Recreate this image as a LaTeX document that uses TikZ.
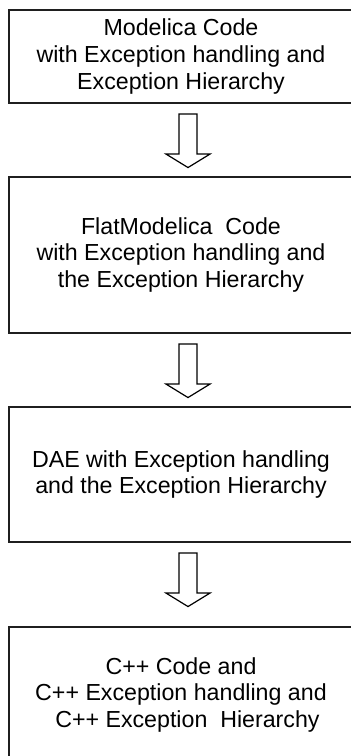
\documentclass[tikz,border=0pt]{standalone}
\usepackage{fontspec}
\setmainfont{Liberation Sans}
\usepackage{xcolor}
\usetikzlibrary{calc}

\tikzset{
  stagebox/.style={draw=black!88, line width=1.6pt, align=center,
    minimum width=258pt, inner sep=0pt,
    font=\fontsize{17.4}{20}\selectfont},
  hollowarrow/.style={draw=black, line width=0.9pt, fill=white}
}

% 空心向下箭头:从框底部往下画
\newcommand{\stagearrow}[1]{%
  \draw[hollowarrow] ($(188,0 |- #1.south)+(-9,-10)$) -- ++(18,0) -- ++(0,-40)
    -- ++(13,0) -- ++(-22,-13.5) -- ++(-22,13.5) -- ++(13,0) -- cycle;}

\begin{document}
\begin{tikzpicture}[x=0.75pt, y=0.75pt]
    \useasboundingbox (0,0) rectangle (350,756);

    % 四个阶段的框,右边缘超出画面
    \node[stagebox, minimum height=69.75pt] (modelica) at (181, 699.5)
        {Modelica Code\\with Exception handling and\\Exception Hierarchy};
    \node[stagebox, minimum height=117pt] (flat) at (181, 501)
        {FlatModelica\ \ Code\\with Exception handling and\\the Exception Hierarchy};
    \node[stagebox, minimum height=101.25pt] (dae) at (181, 281.5)
        {DAE with Exception handling\\and the Exception Hierarchy};
    \node[stagebox, minimum height=102pt] (cpp) at (181, 61)
        {C++ Code and\\C++ Exception handling and\\\ \ C++ Exception\ \ Hierarchy};

    % 阶段之间的箭头
    \stagearrow{modelica}
    \stagearrow{flat}
    \stagearrow{dae}
\end{tikzpicture}
\end{document}
